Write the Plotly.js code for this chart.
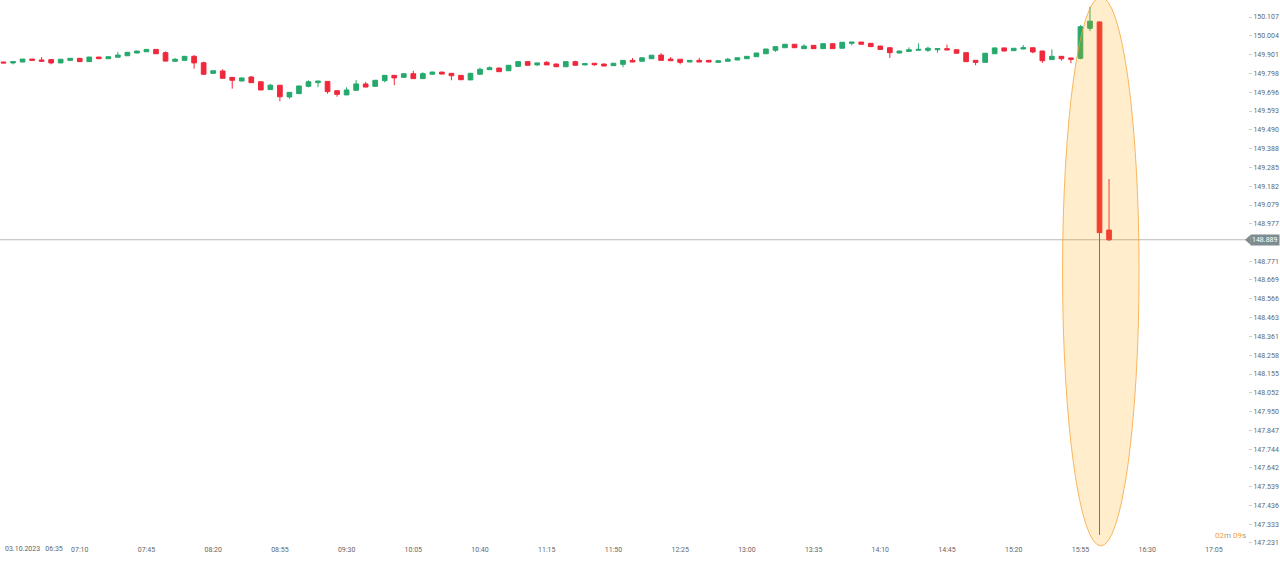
<!DOCTYPE html>
<html>
<head>
<meta charset="utf-8">
<script src="https://cdn.plot.ly/plotly-3.0.1.min.js"></script>
<style>
html,body{margin:0;padding:0;background:#fff;}
#chart{width:1280px;height:562px;}
</style>
</head>
<body>
<div id="chart"></div>
<script>
const dateStr = "2023-10-03";
const dateLabel = "03.10.2023";
const times = [
"06:30","06:35","06:40","06:45","06:50","06:55",
"07:00","07:05","07:10","07:15","07:20","07:25","07:30","07:35","07:40","07:45","07:50","07:55",
"08:00","08:05","08:10","08:15","08:20","08:25","08:30","08:35","08:40","08:45","08:50","08:55",
"09:00","09:05","09:10","09:15","09:20","09:25","09:30","09:35","09:40","09:45","09:50","09:55",
"10:00","10:05","10:10","10:15","10:20","10:25","10:30","10:35","10:40","10:45","10:50","10:55",
"11:00","11:05","11:10","11:15","11:20","11:25","11:30","11:35","11:40","11:45","11:50","11:55",
"12:00","12:05","12:10","12:15","12:20","12:25","12:30","12:35","12:40","12:45","12:50","12:55",
"13:00","13:05","13:10","13:15","13:20","13:25","13:30","13:35","13:40","13:45","13:50","13:55",
"14:00","14:05","14:10","14:15","14:20","14:25","14:30","14:35","14:40","14:45","14:50","14:55",
"15:00","15:05","15:10","15:15","15:20","15:25","15:30","15:35","15:40","15:45","15:50","15:55",
"16:00","16:05","16:10"];
const openP = [
149.861,149.856,149.861,149.877,149.872,149.874,149.856,149.870,149.881,149.863,149.888,149.879,149.887,149.895,149.910,149.917,149.930,149.912,
149.865,149.870,149.892,149.857,149.799,149.812,149.777,149.757,149.779,149.753,149.710,149.734,
149.670,149.688,149.728,149.748,149.755,149.704,149.681,149.706,149.741,149.728,149.759,149.788,
149.777,149.797,149.770,149.794,149.806,149.799,149.788,149.763,149.794,149.819,149.828,149.813,
149.837,149.863,149.845,149.859,149.850,149.835,149.863,149.845,149.854,149.850,149.841,149.848,
149.870,149.865,149.879,149.899,149.877,149.876,149.861,149.870,149.870,149.859,149.865,149.872,
149.879,149.890,149.906,149.925,149.939,149.958,149.934,149.952,149.934,149.961,149.936,149.963,
149.970,149.963,149.948,149.939,149.910,149.919,149.925,149.925,149.928,149.934,149.928,149.912,
149.870,149.859,149.906,149.938,149.923,149.932,149.939,149.921,149.874,149.892,149.883,149.881,
150.045,150.080,148.942];
const highP = [
149.862,149.864,149.878,149.878,149.888,149.875,149.877,149.882,149.883,149.889,149.889,149.891,149.916,149.915,149.922,149.931,149.931,149.919,
149.883,149.893,149.899,149.863,149.814,149.821,149.778,149.775,149.784,149.754,149.741,149.735,
149.696,149.731,149.761,149.758,149.757,149.706,149.723,149.763,149.752,149.762,149.790,149.789,
149.798,149.813,149.805,149.807,149.807,149.800,149.789,149.802,149.830,149.837,149.829,149.844,
149.864,149.864,149.857,149.866,149.851,149.864,149.868,149.853,149.855,149.851,149.855,149.871,
149.883,149.885,149.899,149.909,149.888,149.877,149.871,149.884,149.871,149.869,149.884,149.885,
149.893,149.911,149.933,149.946,149.959,149.959,149.958,149.953,149.962,149.962,149.970,149.971,
149.971,149.964,149.949,149.940,149.922,149.941,149.963,149.945,149.935,149.956,149.929,149.913,
149.871,149.910,149.939,149.939,149.937,149.954,149.940,149.922,149.930,149.893,149.884,150.063,
150.163,150.084,149.221];
const lowP = [
149.855,149.848,149.860,149.869,149.864,149.848,149.855,149.869,149.862,149.862,149.878,149.878,149.886,149.894,149.909,149.916,149.905,149.865,
149.861,149.869,149.824,149.793,149.795,149.771,149.715,149.756,149.747,149.707,149.709,149.646,
149.660,149.687,149.723,149.723,149.688,149.671,149.680,149.705,149.723,149.727,149.750,149.734,
149.776,149.769,149.769,149.793,149.794,149.761,149.763,149.762,149.793,149.818,149.807,149.812,
149.836,149.842,149.839,149.844,149.834,149.834,149.842,149.844,149.841,149.838,149.840,149.832,
149.860,149.864,149.878,149.869,149.867,149.848,149.860,149.860,149.860,149.858,149.864,149.871,
149.878,149.889,149.905,149.916,149.938,149.938,149.933,149.933,149.933,149.933,149.935,149.952,
149.957,149.944,149.929,149.883,149.909,149.918,149.924,149.916,149.912,149.926,149.908,149.862,
149.843,149.858,149.905,149.920,149.922,149.931,149.909,149.856,149.873,149.868,149.854,149.876,
150.030,147.275,148.882];
const closeP = [
149.856,149.863,149.877,149.870,149.865,149.856,149.876,149.881,149.863,149.888,149.879,149.890,149.899,149.914,149.921,149.930,149.906,149.866,
149.876,149.892,149.856,149.794,149.813,149.772,149.761,149.774,149.748,149.708,149.734,149.671,
149.695,149.730,149.753,149.757,149.699,149.684,149.708,149.741,149.724,149.761,149.788,149.774,
149.797,149.770,149.797,149.806,149.795,149.786,149.764,149.799,149.821,149.830,149.808,149.843,
149.863,149.843,149.856,149.845,149.835,149.863,149.843,149.852,149.846,149.839,149.854,149.870,
149.861,149.884,149.898,149.870,149.868,149.859,149.870,149.861,149.861,149.868,149.876,149.884,
149.892,149.910,149.932,149.945,149.958,149.939,149.948,149.934,149.961,149.934,149.969,149.970,
149.958,149.945,149.930,149.912,149.921,149.928,149.930,149.936,149.934,149.927,149.909,149.863,
149.859,149.909,149.938,149.921,149.936,149.939,149.916,149.868,149.892,149.879,149.876,150.054,
150.084,148.928,148.889];
const xTickTimes = ["07:10","07:45","08:20","08:55","09:30","10:05","10:40","11:15","11:50","12:25","13:00","13:35","14:10","14:45","15:20","15:55","16:30","17:05"];
const yTicks = [150.107,150.004,149.901,149.798,149.696,149.593,149.490,149.388,149.285,149.182,149.079,148.977,148.874,148.771,148.669,148.566,148.463,148.361,148.258,148.155,148.052,147.950,147.847,147.744,147.642,147.539,147.436,147.333,147.231];
const currentPrice = 148.889;
const firstTickLabel = "06:35";
const countdownMin = "02", countdownSec = "09";

const ts = t => dateStr + " " + t;
const UP = "#26a96c", DOWN = "#f0283c";
const font = "Roboto, 'Open Sans', sans-serif";

const trace = {
  type: "candlestick",
  x: times.map(ts), open: openP, high: highP, low: lowP, close: closeP,
  increasing: {line: {color: UP, width: 1}, fillcolor: UP},
  decreasing: {line: {color: DOWN, width: 1}, fillcolor: DOWN},
  whiskerwidth: 0,
  hoverinfo: "skip",
  showlegend: false
};

// the tick hidden behind the current-price tag gets no text
const yTickText = yTicks.map(v => Math.abs(v - currentPrice) < 0.03 ? "" : v.toFixed(3));

const layout = {
  width: 1280, height: 562,
  margin: {l: 0, r: 32, t: 0, b: 0},
  paper_bgcolor: "#fff", plot_bgcolor: "#fff",
  font: {family: font, size: 7, color: "#666"},
  showlegend: false,
  xaxis: {
    type: "date",
    range: [ts("06:28:10"), ts("17:22:54")],
    rangeslider: {visible: false},
    tickvals: xTickTimes.map(ts), ticktext: xTickTimes,
    ticklabelposition: "inside",
    ticklabelstandoff: 6,
    ticks: "", showgrid: false, zeroline: false, showline: false,
    tickfont: {size: 7, color: "#666", family: font},
    fixedrange: true
  },
  yaxis: {
    side: "right",
    range: [147.127, 150.200],
    tickvals: yTicks, ticktext: yTickText,
    ticks: "outside", ticklen: 3, tickcolor: "#cfcfcf", tickwidth: 1,
    showgrid: false, zeroline: false, showline: false,
    tickfont: {size: 7, color: "#666", family: font},
    fixedrange: true
  },
  shapes: [
    {type: "line", xref: "paper", yref: "y", x0: 0, x1: 1, y0: currentPrice, y1: currentPrice,
     line: {color: "#b9b9b9", width: 1}, layer: "below"},
    {type: "circle", xref: "x", yref: "y", layer: "above",
     x0: ts("15:45:36"), x1: ts("16:25:45"), y0: 147.215, y1: 150.216,
     fillcolor: "rgba(255,165,0,0.2)", line: {color: "rgba(247,160,50,0.75)", width: 1}},
    {type: "path", xref: "paper", yref: "y", layer: "above",
     path: "M 0.9976 " + currentPrice + " L 1.0022 " + (currentPrice + 0.028) + " L 1.0022 " + (currentPrice - 0.028) + " Z",
     fillcolor: "#7e8b90", line: {width: 0}}
  ],
  annotations: [
    {xref: "paper", yref: "y", x: 1.0018, y: currentPrice, xanchor: "left", yanchor: "middle",
     text: currentPrice.toFixed(3), showarrow: false, bgcolor: "#7e8b90", borderpad: 1,
     font: {size: 7, color: "#ffffff", family: font}},
    {xref: "paper", yref: "paper", x: 0, y: 0.0231, xshift: 3, xanchor: "left", yanchor: "middle",
     text: dateLabel + "\u00a0\u00a0\u00a0" + firstTickLabel, showarrow: false,
     font: {size: 7, color: "#666", family: font}},
    {xref: "paper", yref: "paper", x: 1, y: 0.0463, xanchor: "right", yanchor: "middle",
     text: '<span style="color:#f7a035">' + countdownMin + '</span><span style="color:#9a9a9a">m</span> <span style="color:#f7a035">' + countdownSec + '</span><span style="color:#9a9a9a">s</span>',
     showarrow: false, font: {size: 8, family: font}}
  ]
};

Plotly.newPlot("chart", [trace], layout, {displayModeBar: false, staticPlot: true});
</script>
</body>
</html>
